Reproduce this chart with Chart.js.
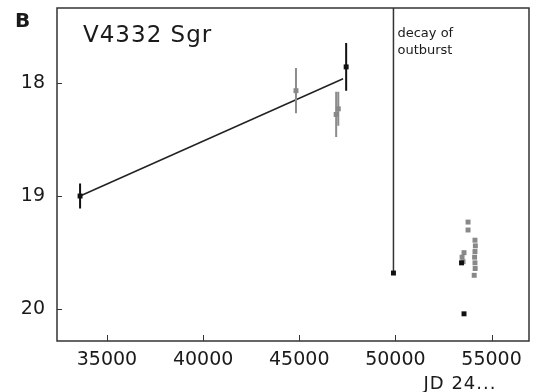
<!DOCTYPE html>
<html>
<head>
<meta charset="utf-8">
<script src="https://cdn.jsdelivr.net/npm/chart.js@4"></script>
<style>
  html, body { margin: 0; padding: 0; background: #fff; }
  #caja { width: 537px; height: 392px; }
</style>
</head>
<body>
<div id="caja"><canvas id="grafico"></canvas></div>
<script>
// datos (JD - 2400000, magnitud)
const negroJD  = [33600, 47440, 49900, 53440, 53570];
const negroMag = [19.0, 17.86, 19.68, 19.59, 20.04];
const negroErr = [0.11, 0.21, 0, 0, 0];

const grisJD  = [44830, 46920, 47030, 53780, 53780, 53570, 53470, 53520, 54140, 54160, 54140, 54120, 54140, 54150, 54100];
const grisMag = [18.07, 18.28, 18.23, 19.23, 19.30, 19.50, 19.54, 19.58, 19.39, 19.44, 19.49, 19.54, 19.59, 19.64, 19.70];
const grisErr = [0.2, 0.2, 0.15, 0, 0, 0, 0, 0, 0, 0, 0, 0, 0, 0, 0];

const ajusteJD  = [33600, 47280];
const ajusteMag = [19.0, 17.965];

const caidaJD  = [49900, 49900];
const caidaMag = [17.2, 19.68];

const ticksX = [35000, 40000, 45000, 50000, 55000];
const ticksY = [18, 19, 20];

const fuente = "'DejaVu Sans', Verdana, sans-serif";

function puntos(xs, ys) {
  return xs.map((x, i) => ({ x: x, y: ys[i] }));
}

function barrasError(xs, ys, errs, color) {
  const barras = [];
  xs.forEach((x, i) => {
    if (errs[i] > 0) {
      barras.push({
        type: 'line',
        data: [{ x: x, y: ys[i] - errs[i] }, { x: x, y: ys[i] + errs[i] }],
        borderColor: color,
        borderWidth: 2,
        pointRadius: 0,
        order: 3
      });
    }
  });
  return barras;
}

// marco, ticks hacia dentro y textos
const adornos = {
  id: 'adornos',
  afterDraw(chart) {
    const ctx = chart.ctx;
    const a = chart.chartArea;
    const sx = chart.scales.x;
    const sy = chart.scales.y;
    ctx.save();
    ctx.strokeStyle = '#333';
    ctx.lineWidth = 1.5;
    ctx.strokeRect(a.left, a.top, a.right - a.left, a.bottom - a.top);

    ctx.lineWidth = 1;
    ctx.beginPath();
    ticksX.forEach(v => {
      const px = Math.round(sx.getPixelForValue(v)) + 0.5;
      ctx.moveTo(px, a.bottom);
      ctx.lineTo(px, a.bottom - 6);
    });
    ticksY.forEach(v => {
      const py = Math.round(sy.getPixelForValue(v)) + 0.5;
      ctx.moveTo(a.left, py);
      ctx.lineTo(a.left + 5, py);
    });
    ctx.stroke();

    ctx.fillStyle = '#1a1a1a';
    ctx.textBaseline = 'alphabetic';
    ctx.textAlign = 'left';

    ctx.font = 'bold 20px ' + fuente;
    ctx.fillText('B', 15, 27);

    ctx.font = '23px ' + fuente;
    ctx.letterSpacing = '1px';
    ctx.fillText('V4332 Sgr', a.left + 26, 42);

    ctx.font = '13px ' + fuente;
    ctx.letterSpacing = '0px';
    const xc = sx.getPixelForValue(caidaJD[0]) + 4;
    ctx.fillText('decay of', xc, 37);
    ctx.fillText('outburst', xc, 54);

    ctx.font = '18px ' + fuente;
    ctx.letterSpacing = '1px';
    ctx.fillText('JD 24...', sx.getPixelForValue(55000) - 68, 389);
    ctx.restore();
  }
};

function sinMargen(s) {
  s.paddingTop = 0;
  s.paddingBottom = 0;
  s.paddingLeft = 0;
  s.paddingRight = 0;
}

function init() {
  const ctx = document.getElementById('grafico').getContext('2d');
  const datasets = [
    {
      type: 'line',
      data: puntos(ajusteJD, ajusteMag),
      borderColor: '#222',
      borderWidth: 1.5,
      pointRadius: 0,
      order: 4
    },
    {
      type: 'line',
      data: puntos(caidaJD, caidaMag),
      borderColor: '#333',
      borderWidth: 1.5,
      pointRadius: 0,
      order: 4
    },
    ...barrasError(grisJD, grisMag, grisErr, '#8c8c8c'),
    ...barrasError(negroJD, negroMag, negroErr, '#111'),
    {
      data: puntos(grisJD, grisMag),
      pointStyle: 'rect',
      pointRadius: 3.5,
      backgroundColor: '#888',
      borderWidth: 0,
      order: 2
    },
    {
      data: puntos(negroJD, negroMag),
      pointStyle: 'rect',
      pointRadius: 3.5,
      backgroundColor: '#111',
      borderWidth: 0,
      order: 1
    }
  ];

  new Chart(ctx, {
    type: 'scatter',
    data: { datasets: datasets },
    options: {
      responsive: true,
      maintainAspectRatio: false,
      animation: false,
      layout: { padding: { left: 0, top: 8, right: 8, bottom: 0 } },
      plugins: {
        legend: { display: false },
        tooltip: { enabled: false }
      },
      scales: {
        x: {
          type: 'linear',
          min: 32400,
          max: 56950,
          afterBuildTicks: s => { s.ticks = ticksX.map(v => ({ value: v })); },
          afterFit: s => { s.height = 51; sinMargen(s); },
          grid: { display: false, drawTicks: false },
          border: { display: false },
          ticks: {
            padding: 8,
            color: '#1a1a1a',
            font: { family: fuente, size: 19 },
            maxRotation: 0,
            callback: v => String(v)
          }
        },
        y: {
          type: 'linear',
          reverse: true,
          min: 17.34,
          max: 20.28,
          afterBuildTicks: s => { s.ticks = ticksY.map(v => ({ value: v })); },
          afterFit: s => { s.width = 57; sinMargen(s); },
          grid: { display: false, drawTicks: false },
          border: { display: false },
          ticks: {
            padding: 12,
            color: '#1a1a1a',
            font: { family: fuente, size: 19 },
            callback: v => String(v)
          }
        }
      }
    },
    plugins: [adornos]
  });
}
init();
</script>
</body>
</html>
